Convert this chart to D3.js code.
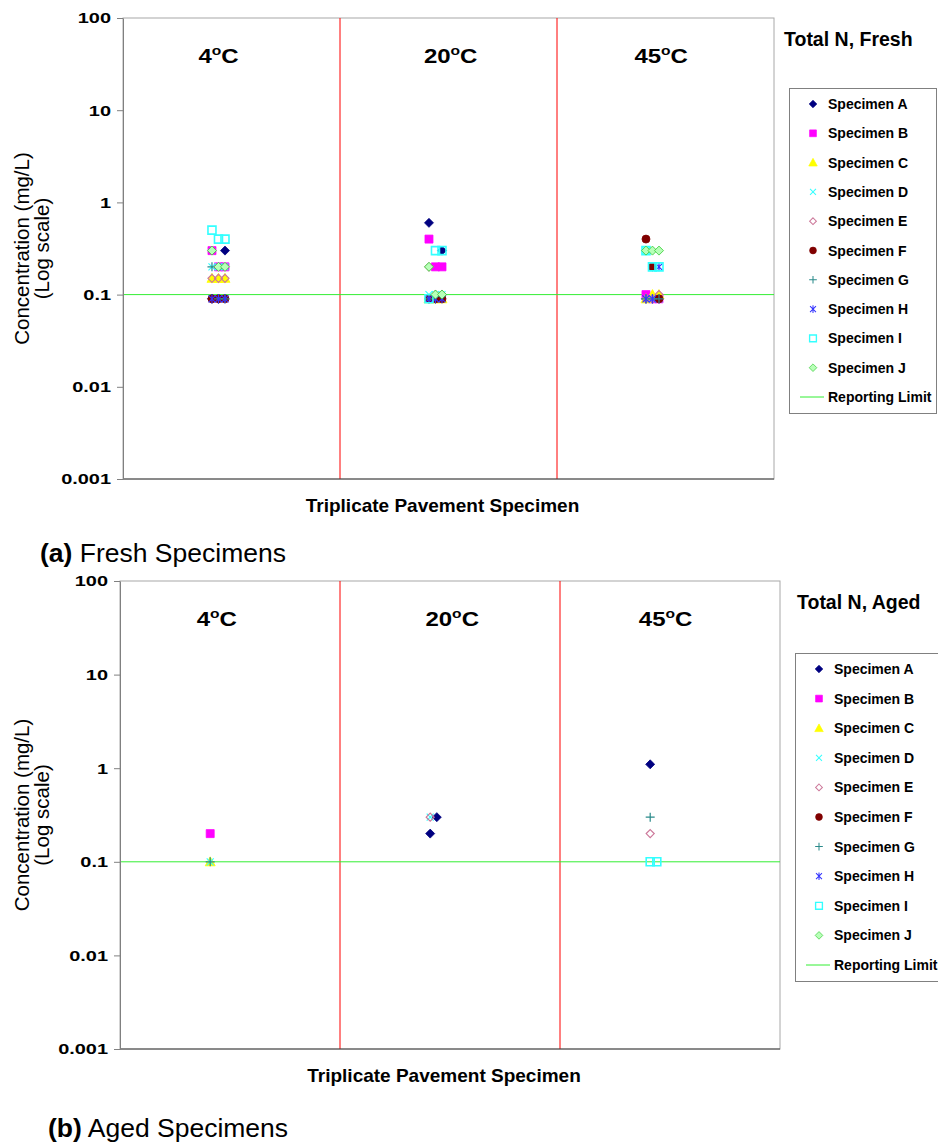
<!DOCTYPE html>
<html>
<head>
<meta charset="utf-8">
<script src="https://cdn.jsdelivr.net/npm/d3@7"></script>
<style>
  html, body { margin: 0; padding: 0; background: #ffffff; }
  svg { display: block; font-family: "Liberation Sans", Arial, sans-serif; }
</style>
</head>
<body>
<svg id="chart" width="938" height="1142"></svg>
<script>
// ---- Data -------------------------------------------------------------
const specimens = ["Specimen A", "Specimen B", "Specimen C", "Specimen D", "Specimen E",
                   "Specimen F", "Specimen G", "Specimen H", "Specimen I", "Specimen J"];
const temperatures = ["4", "20", "45"];
const tickValues = [100, 10, 1, 0.1, 0.01, 0.001];
const tickLabels = ["100", "10", "1", "0.1", "0.01", "0.001"];
const reportingLimit = 0.1;

// x position of each triplicate result: 3 temperatures x 3 replicates
const replicateX = [0.41, 0.44, 0.47, 1.41, 1.44, 1.47, 2.41, 2.44, 2.47];

// Total N, fresh specimens (mg/L); order = 4°C r1..r3, 20°C r1..r3, 45°C r1..r3
const freshA = [0.09, 0.09, 0.3,  0.6, 0.09, 0.3,  0.09, 0.09, 0.09];
const freshB = [0.3, 0.2, 0.2,    0.4, 0.2, 0.2,   0.1, 0.09, 0.09];
const freshC = [0.15, 0.15, 0.15, 0.09, 0.09, 0.09, 0.09, 0.1, 0.1];
const freshD = [0.2, 0.2, 0.2,    0.1, 0.1, 0.1,   0.3, 0.09, 0.09];
const freshE = [0.15, 0.15, 0.15, 0.2, 0.1, 0.1,   0.09, 0.09, 0.1];
const freshF = [0.09, 0.09, 0.09, 0.09, 0.09, 0.09, 0.4, 0.2, 0.09];
const freshG = [0.2, 0.09, 0.09,  0.09, 0.1, 0.1,  0.09, 0.09, 0.09];
const freshH = [0.09, 0.09, 0.09, 0.09, 0.09, 0.09, 0.09, 0.09, 0.2];
const freshI = [0.5, 0.4, 0.4,    0.09, 0.3, 0.3,  0.3, 0.2, 0.2];
const freshJ = [0.3, 0.2, 0.2,    0.2, 0.1, 0.1,   0.3, 0.3, 0.3];

// Total N, aged specimens (mg/L); null = not reported
const agedA = [null, null, null, 0.2, 0.3, null, 1.1, null, null];
const agedB = [0.2, null, null,  null, null, null, null, null, null];
const agedC = [0.1, null, null,  null, null, null, null, null, null];
const agedD = [0.1, null, null,  0.3, null, null,  null, null, null];
const agedE = [null, null, null, 0.3, null, null,  0.2, null, null];
const agedF = [null, null, null, null, null, null, null, null, null];
const agedG = [0.1, null, null,  null, null, null, 0.3, null, null];
const agedH = [null, null, null, null, null, null, null, null, null];
const agedI = [null, null, null, null, null, null, 0.1, 0.1, null];
const agedJ = [null, null, null, null, null, null, null, null, null];

const freshSeries = [freshA, freshB, freshC, freshD, freshE, freshF, freshG, freshH, freshI, freshJ];
const agedSeries  = [agedA, agedB, agedC, agedD, agedE, agedF, agedG, agedH, agedI, agedJ];

// ---- Marker styles (one per specimen) -----------------------------------
const markerStyles = [
  { shape: "diamond",  fill: "#000080", stroke: "#000080" },
  { shape: "square",   fill: "#ff00ff", stroke: "#ff00ff" },
  { shape: "triangle", fill: "#ffff00", stroke: "#ffff00" },
  { shape: "cross",    fill: "none",    stroke: "#33ffff" },
  { shape: "diamondO", fill: "none",    stroke: "#cc7799" },
  { shape: "circle",   fill: "#800000", stroke: "#800000" },
  { shape: "plus",     fill: "none",    stroke: "#2a8a8a" },
  { shape: "star",     fill: "none",    stroke: "#3333ff" },
  { shape: "squareO",  fill: "none",    stroke: "#33ffff" },
  { shape: "diamondJ", fill: "#b8ffb8", stroke: "#33cc33" }
];

function markerPath(shape) {
  switch (shape) {
    case "diamond":  return "M0,-4.5L4.5,0L0,4.5L-4.5,0Z";
    case "diamondO": return "M0,-4L4,0L0,4L-4,0Z";
    case "diamondJ": return "M0,-4.5L4.5,0L0,4.5L-4.5,0Z";
    case "square":   return "M-4,-4H4V4H-4Z";
    case "squareO":  return "M-4,-4H4V4H-4Z";
    case "triangle": return "M0,-5L5,4H-5Z";
    case "cross":    return "M-3.5,-3.5L3.5,3.5M3.5,-3.5L-3.5,3.5";
    case "plus":     return "M-4.5,0H4.5M0,-4.5V4.5";
    case "star":     return "M-3.5,-3.5L3.5,3.5M3.5,-3.5L-3.5,3.5M0,-4.5V4.5";
    case "circle":   return "M4,0A4,4,0,1,1,-4,0A4,4,0,1,1,4,0Z";
  }
}

function drawMarker(g, style, x, y, k) {
  const s = k || 1;
  g.append("path")
    .attr("d", markerPath(style.shape))
    .attr("transform", `translate(${x},${y}) scale(${s})`)
    .attr("fill", style.fill)
    .attr("stroke", style.stroke)
    .attr("stroke-width", (style.shape === "squareO") ? 1.6 : (style.fill === "none" ? 1.2 : 0.8));
}

const svg = d3.select("#chart");

// ---- One panel -----------------------------------------------------------
function drawPanel(cfg) {
  const { left, right, top, bottom, series, title, legend, caption, captionRest, tempX } = cfg;
  const x = d3.scaleLinear().domain([0, 3]).range([left, right]);
  const y = d3.scaleLog().domain([0.001, 100]).range([bottom, top]);
  const g = svg.append("g");

  // plot frame
  g.append("rect")
    .attr("x", left).attr("y", top)
    .attr("width", right - left).attr("height", bottom - top)
    .attr("fill", "none").attr("stroke", "#a8a8a8").attr("stroke-width", 1);

  // temperature separators
  g.selectAll(".sep").data([1, 2]).join("line")
    .attr("x1", d => x(d)).attr("x2", d => x(d))
    .attr("y1", top).attr("y2", bottom)
    .attr("stroke", "#ff0000").attr("stroke-width", 1);

  // bottom axis line
  g.append("line")
    .attr("x1", left).attr("x2", right).attr("y1", bottom).attr("y2", bottom)
    .attr("stroke", "#404040").attr("stroke-width", 1);

  // y axis
  const yAxis = d3.axisLeft(y)
    .tickValues(tickValues)
    .tickFormat((d, i) => tickLabels[i])
    .tickSizeOuter(0).tickSizeInner(6).tickPadding(6);
  const ag = g.append("g").attr("transform", `translate(${left},0)`).call(yAxis);
  ag.select(".domain").attr("stroke", "#808080");
  ag.selectAll(".tick line").attr("stroke", "#808080");
  ag.selectAll(".tick text")
    .attr("font-family", "Liberation Sans, Arial, sans-serif")
    .attr("font-size", 15).attr("font-weight", "bold").attr("fill", "#000")
    .attr("transform", "scale(1.33,1)")
    .attr("x", -12 / 1.33);

  // reporting limit
  g.append("line")
    .attr("x1", left + 1).attr("x2", right)
    .attr("y1", y(reportingLimit)).attr("y2", y(reportingLimit))
    .attr("stroke", "#33ee33").attr("stroke-width", 1);

  // temperature headings
  temperatures.forEach((t, i) => {
    const txt = g.append("text")
      .attr("transform", `translate(${x(tempX[i])},${top + 45}) scale(1.2,1)`)
      .attr("text-anchor", "middle")
      .attr("font-size", 20).attr("font-weight", "bold");
    txt.append("tspan").text(t);
    txt.append("tspan").attr("dy", -8).attr("font-size", 13).text("o");
    txt.append("tspan").attr("dy", 8).text("C");
  });

  // axis titles
  g.append("text")
    .attr("x", (left + right) / 2 - 6).attr("y", bottom + 33)
    .attr("text-anchor", "middle")
    .attr("font-size", 19).attr("font-weight", "bold")
    .text("Triplicate Pavement Specimen");

  const midY = (top + bottom) / 2;
  const yt = g.append("text")
    .attr("transform", `translate(29,${midY}) rotate(-90)`)
    .attr("text-anchor", "middle")
    .attr("font-size", 20.5);
  yt.append("tspan").attr("x", 0).attr("dy", 0).text("Concentration (mg/L)");
  yt.append("tspan").attr("x", 0).attr("dy", 20).text("(Log scale)");

  // data points
  series.forEach((vals, si) => {
    const style = markerStyles[si];
    vals.forEach((v, k) => {
      if (v == null) return;
      drawMarker(g, style, x(replicateX[k]), y(v));
    });
  });

  // chart title
  g.append("text")
    .attr("x", title.x).attr("y", title.y)
    .attr("font-size", 19.5).attr("font-weight", "bold")
    .text(title.text);

  // legend
  const lg = g.append("g");
  lg.append("rect")
    .attr("x", legend.x).attr("y", legend.y)
    .attr("width", legend.w).attr("height", legend.h)
    .attr("fill", "#fff").attr("stroke", "#808080").attr("stroke-width", 1);
  const labels = specimens.concat(["Reporting Limit"]);
  labels.forEach((lab, i) => {
    const cy = legend.firstY + i * legend.step;
    if (i < specimens.length) {
      drawMarker(lg, markerStyles[i], legend.markerX, cy, 0.85);
    } else {
      lg.append("line")
        .attr("x1", legend.markerX - 13).attr("x2", legend.markerX + 11)
        .attr("y1", cy).attr("y2", cy)
        .attr("stroke", "#33ee33").attr("stroke-width", 1);
    }
    lg.append("text")
      .attr("x", legend.textX).attr("y", cy + 5)
      .attr("font-size", 14).attr("font-weight", "bold")
      .text(lab);
  });

  // caption below the chart
  const cap = svg.append("text")
    .attr("x", caption.x).attr("y", caption.y)
    .attr("font-size", 26.5);
  cap.append("tspan").attr("font-weight", "bold").text(caption.label);
  cap.append("tspan").text(" " + captionRest);
}

drawPanel({
  left: 123, right: 774, top: 18, bottom: 479,
  series: freshSeries,
  tempX: [0.44, 1.51, 2.48],
  title: { text: "Total N, Fresh", x: 784, y: 46 },
  legend: { x: 789.5, y: 88.5, w: 147, h: 325, firstY: 104, step: 29.3, markerX: 813, textX: 828 },
  caption: { x: 40, y: 562, label: "(a)" },
  captionRest: "Fresh Specimens"
});

drawPanel({
  left: 120, right: 780, top: 581, bottom: 1049,
  series: agedSeries,
  tempX: [0.44, 1.51, 2.48],
  title: { text: "Total N, Aged", x: 797, y: 609 },
  legend: { x: 795.5, y: 653.5, w: 150, h: 328, firstY: 669, step: 29.6, markerX: 819, textX: 834 },
  caption: { x: 48, y: 1137, label: "(b)" },
  captionRest: "Aged Specimens"
});
</script>
</body>
</html>
